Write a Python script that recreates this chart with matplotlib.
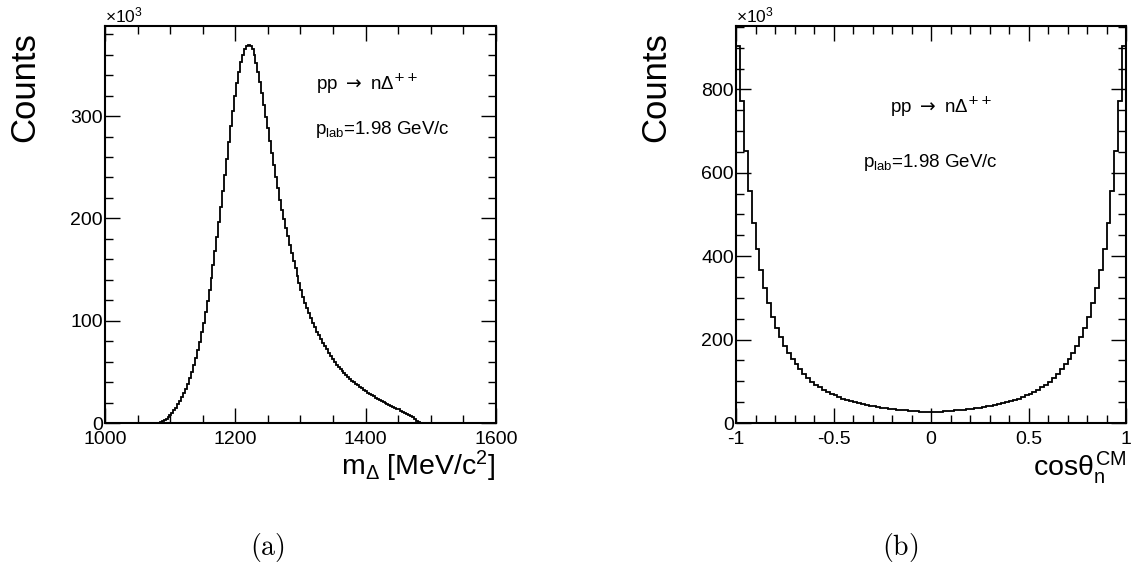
import numpy as np
import matplotlib
matplotlib.use('Agg')
import matplotlib.pyplot as plt
from matplotlib.ticker import MultipleLocator

plt.rcParams['font.family'] = ['Liberation Sans', 'DejaVu Sans']
plt.rcParams['mathtext.fontset'] = 'custom'
plt.rcParams['mathtext.rm'] = 'Liberation Sans'
plt.rcParams['mathtext.it'] = 'Liberation Sans'
plt.rcParams['mathtext.bf'] = 'Liberation Sans:bold'

# (a) invariant mass of the Delta, 200 bins of 3 MeV between 1000 and 1600
m_edges = np.arange(1000, 1601, 3)
m_first_bin = 27   # first non-empty bin (1081-1084 MeV)
m_counts_k = [
    0.2, 1.2, 2.0, 3.1, 4.3, 6.0, 7.9, 10.0, 12.4, 15.1,
    18.3, 21.6, 25.2, 29.1, 33.3, 38.5, 44.0, 50.0, 56.6, 63.8,
    71.5, 79.5, 88.5, 98.1, 108.3, 119.0, 130.0, 142.0, 154.6, 167.8,
    182.0, 196.5, 211.5, 226.8, 242.4, 258.5, 274.6, 290.2, 305.2, 319.6,
    332.0, 343.5, 352.5, 359.7, 365.1, 368.0, 369.8, 368.6, 365.3, 360.0,
    352.0, 343.3, 333.0, 322.3, 311.0, 299.5, 288.0, 276.0, 264.0, 252.0,
    240.5, 229.2, 218.4, 208.5, 199.5, 191.0, 182.6, 174.2, 166.1, 158.3,
    151.0, 143.8, 136.6, 129.7, 123.1, 117.5, 112.2, 107.4, 102.6, 97.8,
    93.5, 89.4, 85.8, 82.2, 78.6, 75.3, 72.0, 68.7, 65.5, 62.5,
    59.8, 57.1, 54.7, 52.5, 50.4, 48.5, 46.7, 44.9, 43.1, 41.3,
    39.8, 38.3, 36.8, 35.3, 33.8, 32.3, 30.8, 29.6, 28.4, 27.2,
    26.0, 24.8, 23.6, 22.6, 21.7, 20.7, 19.6, 18.7, 17.7, 16.8,
    16.0, 15.0, 14.1, 13.2, 12.2, 11.2, 10.1, 9.0, 7.9, 6.7,
    5.4, 3.8, 2.3, 0.8,
]

# (b) neutron CM angle, 100 bins between -1 and 1
cos_edges = np.linspace(-1, 1, 101)
cos_counts_k = [
    904, 771, 652, 557, 479, 418, 366, 323, 287, 255,
    229, 206, 185, 169, 154, 141, 129, 118, 108, 99,
    92, 86, 80, 75, 70, 66, 62, 58.5, 55.5, 52.5,
    50, 47.5, 45.5, 43.5, 41.5, 40, 38.5, 37, 35.5, 34,
    33, 32, 31, 30, 29.2, 28.5, 27.8, 27.2, 26.8, 26.5,
    26.5, 26.8, 27.2, 27.8, 28.5, 29.2, 30, 31, 32, 33,
    34, 35.5, 37, 38.5, 40, 41.5, 43.5, 45.5, 47.5, 50,
    52.5, 55.5, 58.5, 62, 66, 70, 75, 80, 86, 92,
    99, 108, 118, 129, 141, 154, 169, 185, 206, 229,
    255, 287, 323, 366, 418, 479, 557, 652, 771, 904,
]

m_counts = np.zeros(len(m_edges) - 1)
m_counts[m_first_bin:m_first_bin + len(m_counts_k)] = m_counts_k

fig = plt.figure(figsize=(11.31, 5.64), dpi=100)
ax1 = fig.add_axes([0.0928, 0.25, 0.3457, 0.7039])
ax2 = fig.add_axes([0.6508, 0.25, 0.3448, 0.7039])

def root_style(ax):
    for s in ax.spines.values():
        s.set_linewidth(1.5)
    ax.tick_params(which='both', direction='in', top=True, right=True,
                   labelsize=14, width=1.0)
    ax.tick_params(which='major', length=11)
    ax.tick_params(which='minor', length=5.5)
    ax.tick_params(axis='x', pad=6)
    ax.tick_params(axis='y', pad=1.5)

# left panel
ax1.stairs(m_counts, m_edges, color='black', lw=1.3)
ax1.set_xlim(1000, 1600)
ax1.set_ylim(0, 388)
ax1.xaxis.set_major_locator(MultipleLocator(200))
ax1.xaxis.set_minor_locator(MultipleLocator(50))
ax1.yaxis.set_major_locator(MultipleLocator(100))
ax1.yaxis.set_minor_locator(MultipleLocator(20))
root_style(ax1)
ax1.text(-0.205, 0.985, 'Counts', rotation=90, ha='center', va='top',
         fontsize=25, transform=ax1.transAxes)
ax1.text(1.0, -0.132, r'm$_{\Delta}$ [MeV/c$^{2}$]', ha='right', va='baseline',
         fontsize=20.5, transform=ax1.transAxes)
ax1.text(0.0, 1.008, '×10$^{3}$', ha='left', va='baseline', fontsize=12.5,
         transform=ax1.transAxes)
ax1.text(0.54, 0.839, r'pp $\rightarrow$ nΔ$^{++}$', ha='left', va='baseline',
         fontsize=13.5, transform=ax1.transAxes, math_fontfamily='dejavusans')
ax1.text(0.537, 0.728, r'p$_{\mathrm{lab}}$=1.98 GeV/c', ha='left', va='baseline',
         fontsize=13.5, transform=ax1.transAxes)

# right panel
ax2.stairs(cos_counts_k, cos_edges, color='black', lw=1.3)
ax2.set_xlim(-1, 1)
ax2.set_ylim(0, 952)
ax2.xaxis.set_major_locator(MultipleLocator(0.5))
ax2.xaxis.set_minor_locator(MultipleLocator(0.1))
ax2.yaxis.set_major_locator(MultipleLocator(200))
ax2.yaxis.set_minor_locator(MultipleLocator(50))
ax2.set_xticks([-1, -0.5, 0, 0.5, 1])
ax2.set_xticklabels(['-1', '-0.5', '0', '0.5', '1'])
root_style(ax2)
ax2.text(-0.205, 0.985, 'Counts', rotation=90, ha='center', va='top',
         fontsize=25, transform=ax2.transAxes)
ax2.text(1.0, -0.132, r'cos$\theta_{\mathrm{n}}^{\mathrm{CM}}$', ha='right',
         va='baseline', fontsize=20.5, transform=ax2.transAxes)
ax2.text(0.0, 1.008, '×10$^{3}$', ha='left', va='baseline', fontsize=12.5,
         transform=ax2.transAxes)
ax2.text(0.395, 0.781, r'pp $\rightarrow$ nΔ$^{++}$', ha='left', va='baseline',
         fontsize=13.5, transform=ax2.transAxes, math_fontfamily='dejavusans')
ax2.text(0.326, 0.645, r'p$_{\mathrm{lab}}$=1.98 GeV/c', ha='left', va='baseline',
         fontsize=13.5, transform=ax2.transAxes)

# sub-figure captions
fig.text(267 / 1131, 1 - 547 / 564, r'$\mathrm{(a)}$', ha='center', va='center',
         fontsize=20, math_fontfamily='cm')
fig.text(900 / 1131, 1 - 547 / 564, r'$\mathrm{(b)}$', ha='center', va='center',
         fontsize=20, math_fontfamily='cm')

fig.savefig('out.png', dpi=100)
